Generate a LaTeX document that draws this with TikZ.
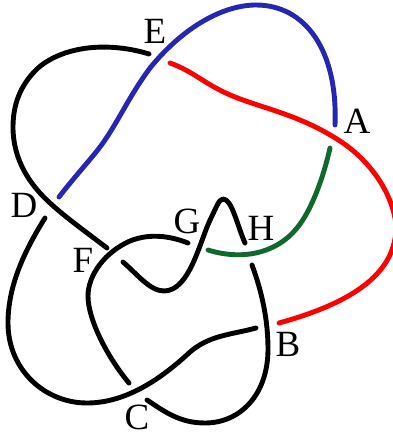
\documentclass[tikz,border=0pt]{standalone}
\usepackage{fontspec}
\setmainfont{Liberation Serif}
\definecolor{kblue}{RGB}{38,38,178}
\definecolor{kgreen}{RGB}{16,104,44}
\tikzset{
  strand/.style={line width=4.9pt,line cap=round,line join=round},
  lab/.style={inner sep=0pt,font=\fontsize{37}{37}\selectfont,text=black}
}
\begin{document}
\begin{tikzpicture}[x=1pt,y=-1pt]
\useasboundingbox (0,0) rectangle (393,436);
\clip (0,0) rectangle (393,436);
% blue
\draw[strand,kblue] (59,197) .. controls (80,170) and (95,155) .. (105,140) .. controls (120,118) and (130,95) .. (150,68) .. controls (185,25) and (225,5) .. (256,5) .. controls (305,5) and (338,50) .. (335,125);
% red
\draw[strand,red] (170,63) .. controls (195,72) and (205,85) .. (235,97) .. controls (265,109) and (300,115) .. (340,141) .. controls (372,162) and (393,195) .. (396,225) .. controls (397,272) and (355,302) .. (279,323);
% green
\draw[strand,kgreen] (208,250) .. controls (240,260) and (275,255) .. (297,228) .. controls (312,210) and (324,175) .. (330,148);
% black
\draw[strand] (149,54) .. controls (110,42) and (65,45) .. (38,68) .. controls (20,85) and (13,105) .. (13,127) .. controls (13,160) and (30,185) .. (50,203) .. controls (65,217) and (90,235) .. (107,248);
\draw[strand] (45,218) .. controls (25,250) and (8,285) .. (8,323) .. controls (8,370) and (45,403) .. (87,403) .. controls (125,403) and (160,380) .. (190,352) .. controls (210,335) and (230,335) .. (256,328);
\draw[strand] (188,243) .. controls (170,236) and (150,233) .. (130,241) .. controls (105,252) and (88,275) .. (88,296) .. controls (88,320) and (108,358) .. (129,383);
\draw[strand] (123,262) .. controls (137,274) and (150,291) .. (164,291) .. controls (190,291) and (200,240) .. (211,218) .. controls (216,208) and (219,199) .. (223,199) .. controls (232,199) and (237,225) .. (245,243);
\draw[strand] (252,265) .. controls (262,292) and (268,320) .. (268,349) .. controls (268,395) and (240,423) .. (205,423) .. controls (180,423) and (165,412) .. (147,400);
% labels
\node[lab] (a) at (357,121) {A};
\node[lab] (b) at (288,344) {B};
\node[lab] (c) at (137,417) {C};
\node[lab] (d) at (24,205) {D};
\node[lab] (e) at (155,31) {E};
\node[lab] (f) at (83,260) {F};
\node[lab] (g) at (187,221) {G};
\node[lab] (h) at (261,228) {H};
\end{tikzpicture}
\end{document}
